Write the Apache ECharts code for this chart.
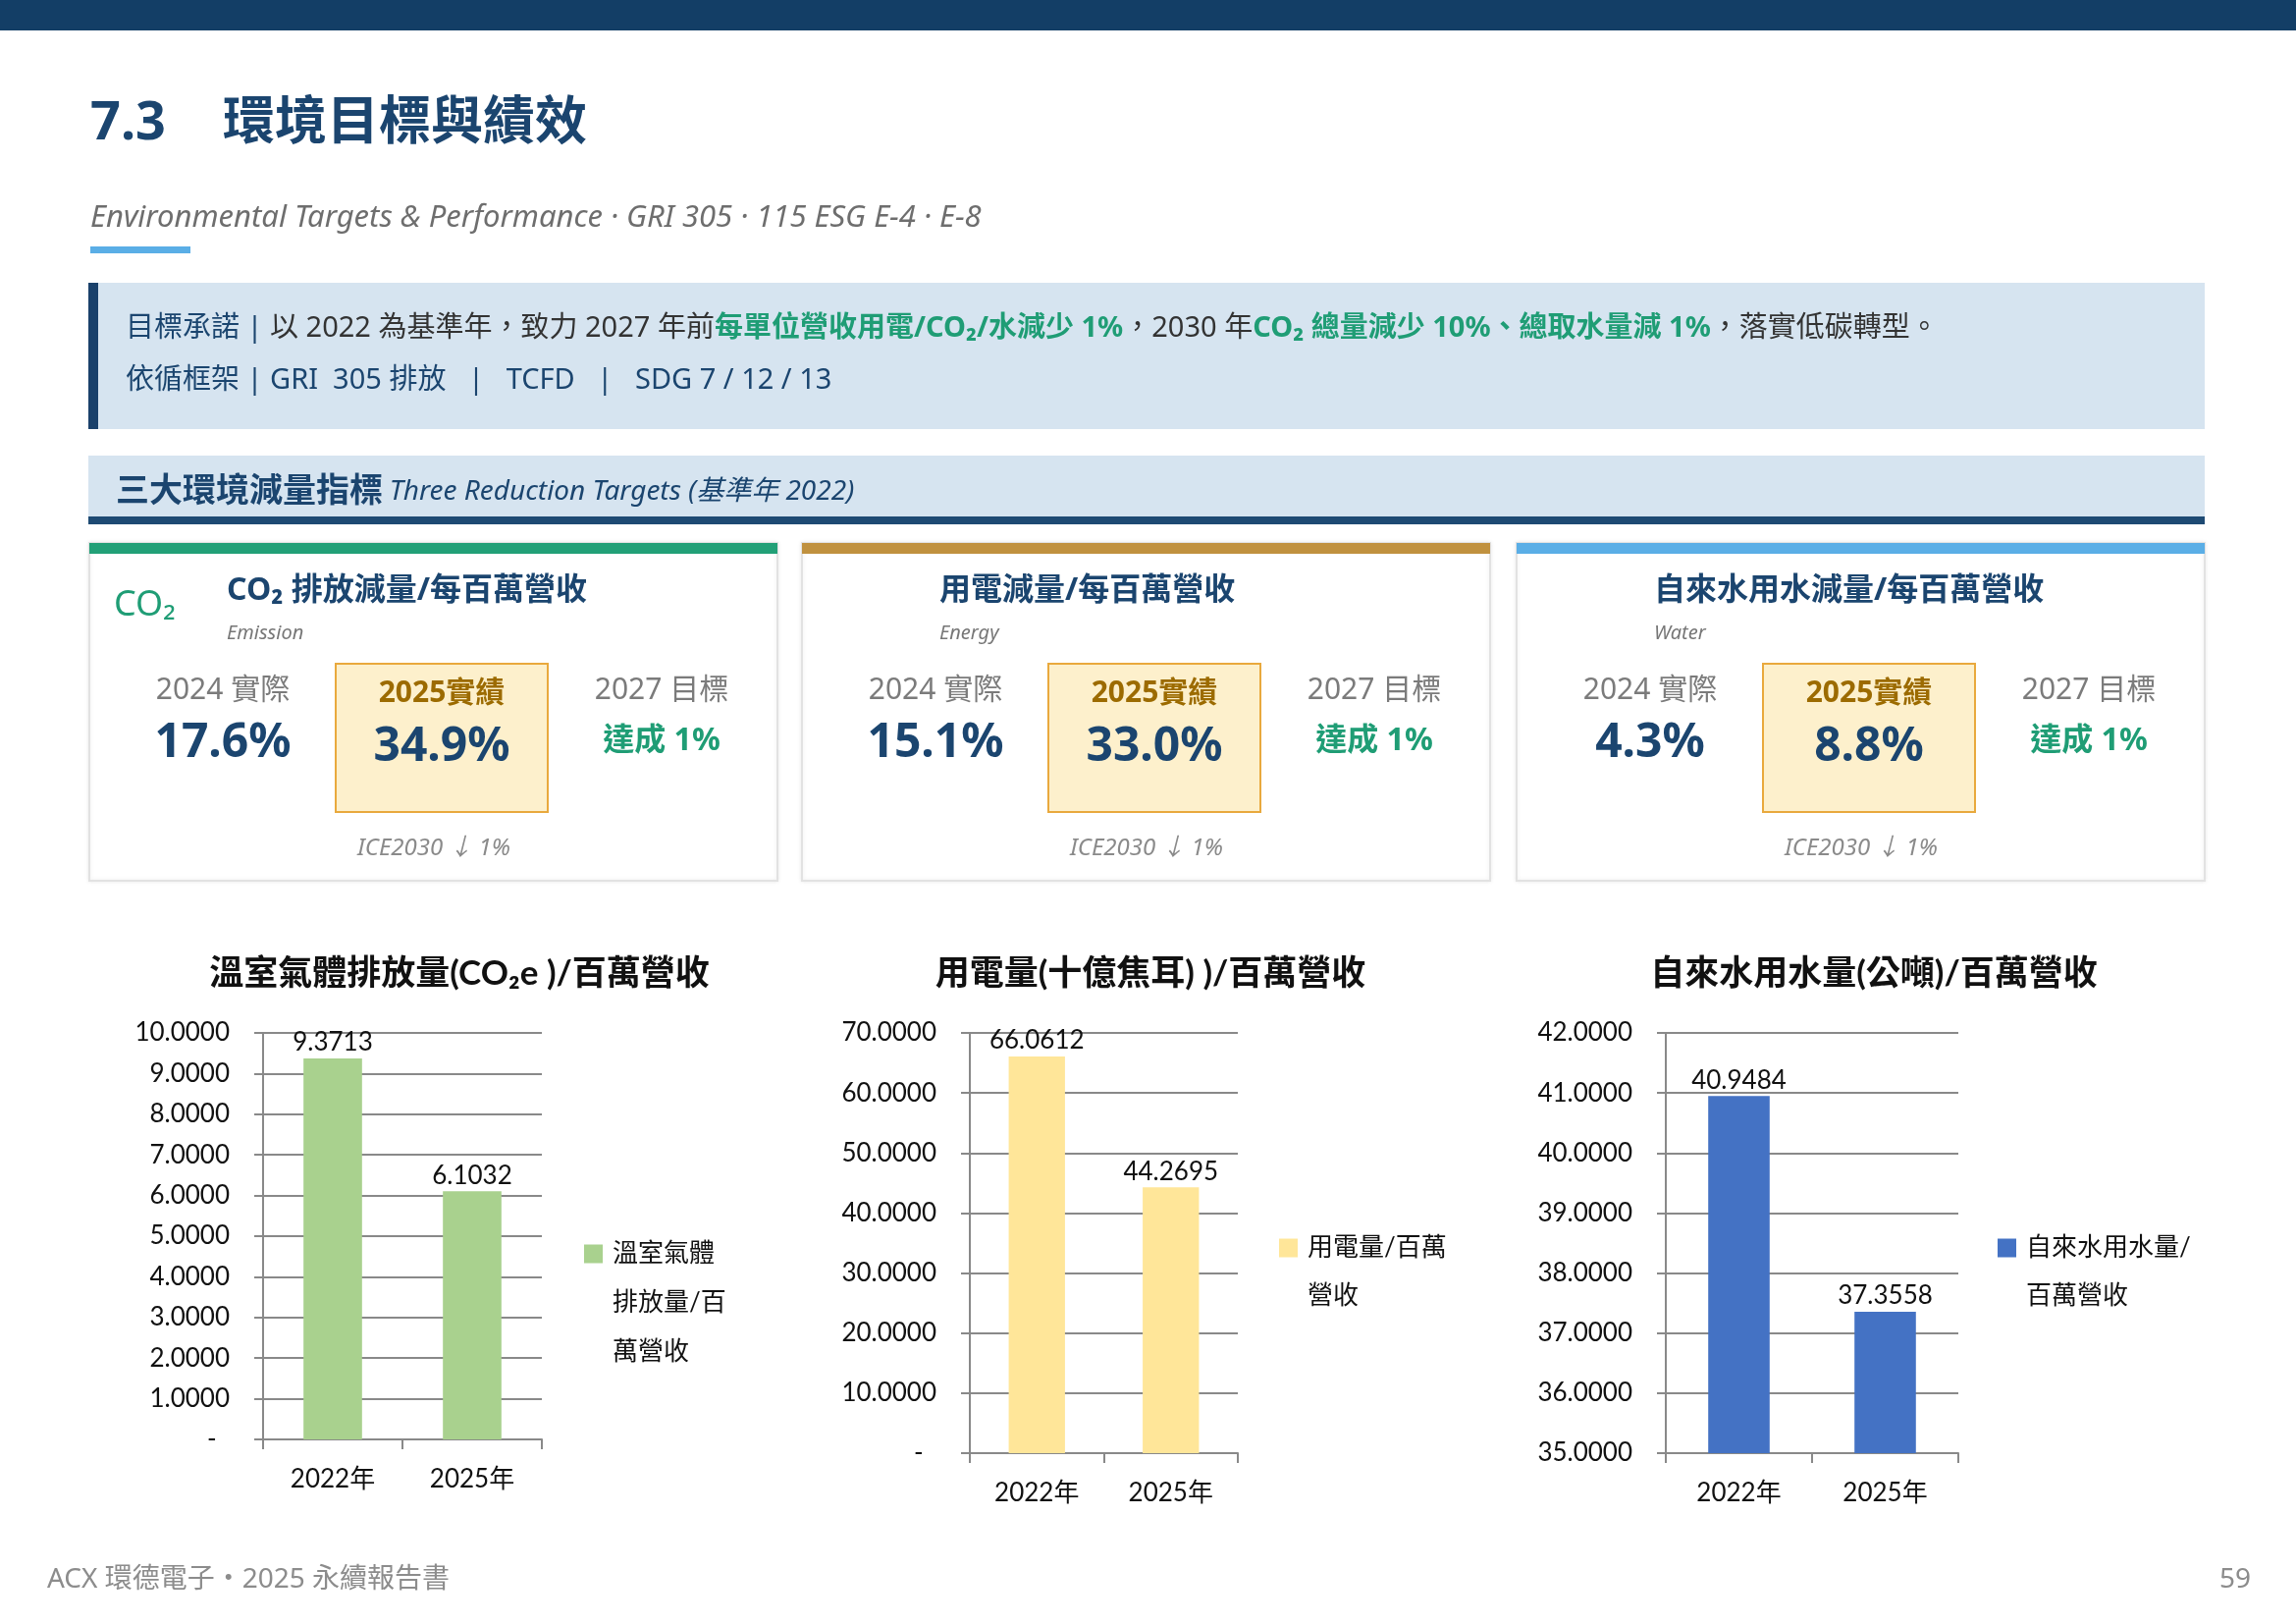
<!DOCTYPE html>
<html lang="zh-Hant">
<head>
<meta charset="utf-8">
<title>7.3 環境目標與績效</title>
<script src="https://cdn.jsdelivr.net/npm/echarts@6/dist/echarts.min.js"></script>
<style>
  html, body { margin: 0; padding: 0; background: #fff; }
  #page { width: 2339px; height: 1654px; }
</style>
</head>
<body>
<div id="page"></div>
<script>
// 圖表資料
const categories = ['2022年', '2025年']
const ghgValues = [9.3713, 6.1032]
const energyValues = [66.0612, 44.2695]
const waterValues = [40.9484, 37.3558]
const seriesNames = ['溫室氣體排放量/百萬營收', '用電量/百萬營收', '自來水用水量/百萬營收']
const chartTitles = ['溫室氣體排放量(CO₂e )/百萬營收', '用電量(十億焦耳) )/百萬營收', '自來水用水量(公噸)/百萬營收']
const yMin = [0, 0, 35]
const yMax = [10, 70, 42]
const yStep = [1, 10, 1]

// 指標卡片文字
const cardTitles = ['CO₂ 排放減量/每百萬營收', '用電減量/每百萬營收', '自來水用水減量/每百萬營收']
const cardSubtitles = ['Emission', 'Energy', 'Water']
const actual2024 = ['17.6%', '15.1%', '4.3%']
const result2025 = ['34.9%', '33.0%', '8.8%']
const target2027 = ['達成 1%', '達成 1%', '達成 1%']
const cardNotes = ['ICE2030 ↓ 1%', 'ICE2030 ↓ 1%', 'ICE2030 ↓ 1%']

const NAVY = '#1b456f'
const GREEN = '#1f9d75'
const PAGE_FONT = '"Noto Sans", "Noto Sans CJK TC", sans-serif'
const CHART_FONT = 'Lato, "Noto Sans CJK TC", sans-serif'
const barColors = ['#a9d18e', '#ffe699', '#4472c4']
const cardColors = ['#22a077', '#c0913f', '#5aaee6']
const cardX = [91, 817, 1545]
const values = [ghgValues, energyValues, waterValues]

// 三個小圖的位置 (lines = 圖例文字折成幾行)
const panels = [
    { grid: { left: 268, top: 1052, width: 284, height: 414 }, titleX: 468, legendX: 595, legendY: 1277, lines: 3, lineH: 50, textW: 120 },
    { grid: { left: 988, top: 1052, width: 273, height: 428 }, titleX: 1172, legendX: 1303, legendY: 1271, lines: 2, lineH: 49, textW: 150 },
    { grid: { left: 1697, top: 1052, width: 298, height: 428 }, titleX: 1909, legendX: 2035, legendY: 1271, lines: 2, lineH: 49, textW: 175 }
]

function txt(text, x, y, font, fill, align) {
    return {
        type: 'text', silent: true,
        style: { text: text, x: x, y: y, font: font, fill: fill, textAlign: align || 'left', textVerticalAlign: 'middle' }
    }
}

const graphics = [
    { type: 'rect', silent: true, shape: { x: 0, y: 0, width: 2339, height: 31 }, style: { fill: '#133e66' } },
    txt('7.3', 92, 127, 'bold 54px ' + PAGE_FONT, NAVY),
    txt('環境目標與績效', 227, 127, 'bold 53px ' + PAGE_FONT, NAVY),
    txt('Environmental Targets & Performance · GRI 305 · 115 ESG E-4 · E-8', 92, 222, 'italic 31px ' + PAGE_FONT, '#6e6e6e'),
    { type: 'rect', silent: true, shape: { x: 92, y: 251, width: 102, height: 7 }, style: { fill: '#5aaee6' } },

    // 目標承諾框
    { type: 'rect', silent: true, shape: { x: 90, y: 288, width: 2156, height: 149 }, style: { fill: '#d6e4f0' } },
    { type: 'rect', silent: true, shape: { x: 90, y: 288, width: 10, height: 149 }, style: { fill: '#1a416b' } },
    {
        type: 'text', silent: true,
        style: {
            x: 128, y: 335, textVerticalAlign: 'middle',
            text: '{n|目標承諾 | }{t|以 2022 為基準年，致力 2027 年前}{g|每單位營收用電/CO₂/水減少 1%}{t|，2030 年}{g|CO₂ 總量減少 10%、總取水量減 1%}{t|，落實低碳轉型。}',
            rich: {
                n: { fill: NAVY, fontSize: 29, fontFamily: PAGE_FONT },
                t: { fill: '#333333', fontSize: 29, fontFamily: PAGE_FONT },
                g: { fill: GREEN, fontSize: 29, fontFamily: PAGE_FONT, fontWeight: 'bold' }
            }
        }
    },
    txt('依循框架 | GRI  305 排放   |   TCFD   |   SDG 7 / 12 / 13', 128, 388, '29px ' + PAGE_FONT, NAVY),

    // 三大環境減量指標
    { type: 'rect', silent: true, shape: { x: 90, y: 464, width: 2156, height: 62 }, style: { fill: '#d6e4f0' } },
    { type: 'rect', silent: true, shape: { x: 90, y: 526, width: 2156, height: 8 }, style: { fill: '#1e4a73' } },
    {
        type: 'text', silent: true,
        style: {
            x: 118, y: 501, textVerticalAlign: 'middle',
            text: '{b|三大環境減量指標}  {i|Three Reduction Targets (基準年 2022)}',
            rich: {
                b: { fill: NAVY, fontSize: 34, fontFamily: PAGE_FONT, fontWeight: 'bold' },
                i: { fill: NAVY, fontSize: 28, fontFamily: PAGE_FONT, fontStyle: 'italic' }
            }
        }
    },

    // 頁尾
    txt('ACX 環德電子・2025 永續報告書', 48, 1609, '28px ' + PAGE_FONT, '#8c8c8c'),
    txt('59', 2293, 1609, '28px ' + PAGE_FONT, '#8c8c8c', 'right')
]

// 指標卡片
cardX.forEach((x0, i) => {
    graphics.push(
        { type: 'rect', silent: true, shape: { x: x0, y: 553, width: 701, height: 344 },
          style: { fill: '#fff', stroke: '#e2e2e2', lineWidth: 2, shadowBlur: 4, shadowColor: 'rgba(0,0,0,0.08)' } },
        { type: 'rect', silent: true, shape: { x: x0, y: 553, width: 701, height: 11 }, style: { fill: cardColors[i] } },
        txt(cardTitles[i], x0 + 140, 602, 'bold 32px ' + PAGE_FONT, NAVY),
        txt(cardSubtitles[i], x0 + 140, 645, 'italic 20px ' + PAGE_FONT, '#777'),
        txt('2024 實際', x0 + 136, 703, '30px ' + PAGE_FONT, '#7b7b7b', 'center'),
        txt(actual2024[i], x0 + 136, 757, 'bold 48px ' + PAGE_FONT, NAVY, 'center'),
        { type: 'rect', silent: true, shape: { x: x0 + 251, y: 676, width: 216, height: 151 },
          style: { fill: '#fdf0cc', stroke: '#e9a93d', lineWidth: 2 } },
        txt('2025實績', x0 + 359, 706, 'bold 30px ' + PAGE_FONT, '#9c6b00', 'center'),
        txt(result2025[i], x0 + 359, 761, 'bold 48px ' + PAGE_FONT, NAVY, 'center'),
        txt('2027 目標', x0 + 583, 703, '30px ' + PAGE_FONT, '#7b7b7b', 'center'),
        txt(target2027[i], x0 + 583, 755, 'bold 32px ' + PAGE_FONT, GREEN, 'center'),
        txt(cardNotes[i], x0 + 351, 864, 'italic 24px ' + PAGE_FONT, '#8a8a8a', 'center')
    )
})
graphics.push(txt('CO₂', cardX[0] + 25, 617, '36px ' + PAGE_FONT, GREEN))

const axisGray = { color: '#898989', width: 2 }
const labelText = { fontFamily: CHART_FONT, fontSize: 26, color: '#111' }

const option = {
    animation: false,
    backgroundColor: '#fff',
    title: panels.map((p, i) => ({
        text: chartTitles[i], left: p.titleX, top: 974, textAlign: 'center', padding: 0,
        textStyle: { fontFamily: CHART_FONT, fontSize: 35, fontWeight: 'bold', color: '#111' }
    })),
    // 圖例：前面補空行，讓第一行文字與色塊對齊
    legend: panels.map((p, i) => {
        const total = p.lines * 2 - 1
        return {
            data: [seriesNames[i]], left: p.legendX, top: p.legendY - total * p.lineH / 2,
            padding: 0, icon: 'rect', itemWidth: 19, itemHeight: 19, selectedMode: false,
            formatter: name => '\n'.repeat(p.lines - 1) + name,
            textStyle: Object.assign({}, labelText, {
                lineHeight: p.lineH, width: p.textW, overflow: 'break', padding: [0, 0, 0, 5]
            })
        }
    }),
    grid: panels.map(p => Object.assign({ outerBoundsMode: 'none', containLabel: false }, p.grid)),
    xAxis: panels.map((p, i) => ({
        type: 'category', gridIndex: i, data: categories,
        axisLine: { show: true, lineStyle: axisGray },
        axisTick: { show: true, length: 10, lineStyle: axisGray },
        axisLabel: Object.assign({ margin: 28 }, labelText),
        splitLine: { show: false }
    })),
    yAxis: panels.map((p, i) => ({
        type: 'value', gridIndex: i, min: yMin[i], max: yMax[i], interval: yStep[i],
        axisLine: { show: true, lineStyle: axisGray },
        axisTick: { show: true, length: 9, lineStyle: axisGray },
        splitLine: { show: true, lineStyle: axisGray },
        axisLabel: Object.assign({ margin: 34, formatter: v => v === 0 ? '-  ' : v.toFixed(4) }, labelText)
    })),
    series: values.map((vals, i) => ({
        type: 'bar', name: seriesNames[i], xAxisIndex: i, yAxisIndex: i, data: vals,
        barWidth: '42%',
        itemStyle: { color: barColors[i] },
        label: Object.assign({ show: true, position: 'top', distance: 3, formatter: p => p.value.toFixed(4) }, labelText),
        emphasis: { disabled: true }
    })),
    graphic: { elements: graphics }
}

const chart = echarts.init(document.getElementById('page'))
chart.setOption(option)
</script>
</body>
</html>
